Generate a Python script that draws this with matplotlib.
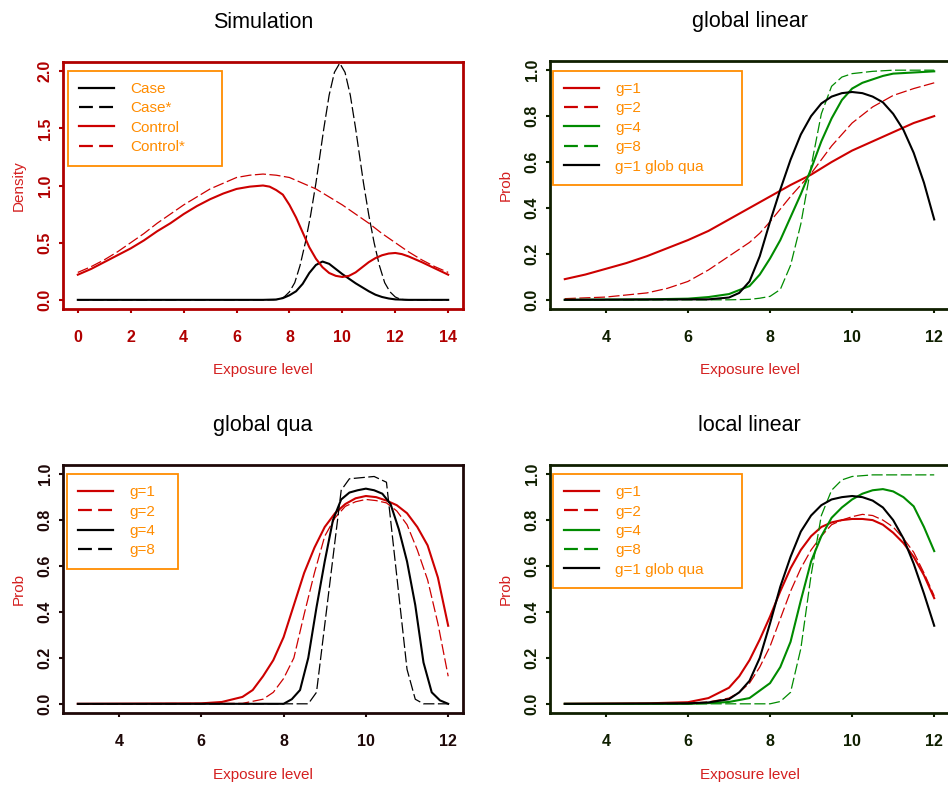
import matplotlib
matplotlib.use("Agg")
import matplotlib.pyplot as plt
from matplotlib.lines import Line2D
from matplotlib.ticker import FormatStrFormatter

plt.rcParams['font.family'] = ['Liberation Sans', 'DejaVu Sans']
plt.rcParams['lines.scale_dashes'] = False

RED = '#CD0000'
GREEN = '#008B00'
BLACK = '#000000'
ORANGE = '#FF8C00'
LABEL_RED = '#D42020'

# ---- Simulation (density curves) ----
control_x = [0, 0.5, 1, 1.5, 2, 2.5, 3, 3.5, 4, 4.5, 5, 5.5, 6, 6.5, 7, 7.25, 7.5, 7.75,
             8, 8.25, 8.5, 8.75, 9, 9.25, 9.5, 9.75, 10, 10.25, 10.5, 10.75, 11, 11.25,
             11.5, 11.75, 12, 12.25, 12.5, 13, 13.5, 14]
control_y = [0.22, 0.27, 0.33, 0.39, 0.45, 0.52, 0.60, 0.67, 0.75, 0.82, 0.88, 0.93, 0.97,
             0.99, 1.00, 0.99, 0.96, 0.92, 0.83, 0.72, 0.59, 0.46, 0.36, 0.285, 0.235, 0.21,
             0.20, 0.21, 0.24, 0.285, 0.33, 0.365, 0.39, 0.405, 0.41, 0.40, 0.38, 0.33,
             0.275, 0.22]
control_star_x = [0, 0.5, 1, 1.5, 2, 2.5, 3, 3.5, 4, 4.5, 5, 5.5, 6, 6.5, 7, 7.5, 8, 8.5,
                  9, 9.5, 10, 10.5, 11, 11.5, 12, 12.5, 13, 13.5, 14]
control_star_y = [0.24, 0.29, 0.35, 0.42, 0.50, 0.58, 0.67, 0.75, 0.83, 0.90, 0.97, 1.02,
                  1.07, 1.09, 1.10, 1.09, 1.07, 1.02, 0.97, 0.90, 0.83, 0.75, 0.67, 0.58,
                  0.50, 0.42, 0.35, 0.29, 0.24]
case_x = [0, 7, 7.5, 7.75, 8, 8.25, 8.5, 8.75, 9, 9.25, 9.5, 9.75, 10, 10.25, 10.5, 10.75,
          11, 11.25, 11.5, 11.75, 12, 12.5, 14]
case_y = [0, 0, 0.003, 0.015, 0.04, 0.075, 0.14, 0.235, 0.305, 0.335, 0.315, 0.27, 0.225,
          0.185, 0.145, 0.11, 0.075, 0.045, 0.025, 0.012, 0.004, 0, 0]
case_star_x = [0, 7.4, 7.6, 7.8, 8.0, 8.2, 8.4, 8.6, 8.8, 9.0, 9.1, 9.3, 9.5, 9.7, 9.9,
               10.1, 10.3, 10.5, 10.7, 10.8, 11.0, 11.2, 11.4, 11.6, 11.8, 12.0, 12.2,
               12.4, 14]
case_star_y = [0, 0, 0.005, 0.025, 0.07, 0.15, 0.30, 0.50, 0.74, 1.02, 1.18, 1.50, 1.79,
               1.99, 2.07, 1.99, 1.79, 1.50, 1.18, 1.02, 0.74, 0.50, 0.30, 0.15, 0.07,
               0.025, 0.005, 0, 0]

# ---- global linear ----
gl_g1_x = [3, 3.5, 4, 4.5, 5, 5.5, 6, 6.5, 7, 7.5, 8, 8.5, 9, 9.5, 10, 10.5, 11, 11.5, 12]
gl_g1_y = [0.09, 0.11, 0.135, 0.16, 0.19, 0.225, 0.26, 0.30, 0.35, 0.40, 0.45, 0.50, 0.545,
           0.60, 0.65, 0.69, 0.73, 0.77, 0.80]
gl_g2_x = [3, 4, 5, 5.5, 6, 6.5, 7, 7.5, 7.75, 8, 8.5, 9, 9.5, 10, 10.5, 11, 11.5, 12]
gl_g2_y = [0.005, 0.012, 0.03, 0.05, 0.08, 0.13, 0.19, 0.25, 0.29, 0.34, 0.45, 0.55, 0.67,
           0.77, 0.84, 0.89, 0.92, 0.945]
gl_g4_x = [3, 5, 6, 6.5, 7, 7.5, 7.75, 8, 8.25, 8.5, 8.75, 9, 9.25, 9.5, 9.75, 10, 10.25,
           10.5, 10.75, 11, 11.5, 12]
gl_g4_y = [0, 0.002, 0.005, 0.012, 0.025, 0.06, 0.11, 0.18, 0.26, 0.36, 0.46, 0.57, 0.69,
           0.79, 0.87, 0.92, 0.945, 0.96, 0.975, 0.985, 0.99, 0.995]
gl_g8_x = [3, 7, 7.5, 7.75, 8, 8.25, 8.5, 8.75, 9, 9.25, 9.5, 9.75, 10, 10.5, 11, 12]
gl_g8_y = [0, 0, 0.002, 0.007, 0.015, 0.045, 0.15, 0.33, 0.58, 0.81, 0.93, 0.97, 0.985,
           0.995, 1.0, 1.0]
gl_qua_x = [3, 6.5, 7, 7.25, 7.5, 7.75, 8, 8.25, 8.5, 8.75, 9, 9.25, 9.5, 9.75, 10, 10.25,
            10.5, 10.75, 11, 11.25, 11.5, 11.75, 12]
gl_qua_y = [0, 0.002, 0.01, 0.03, 0.08, 0.19, 0.34, 0.48, 0.61, 0.72, 0.80, 0.855, 0.885,
            0.90, 0.905, 0.90, 0.885, 0.86, 0.81, 0.74, 0.64, 0.51, 0.35]

# ---- global qua ----
gq_g1_x = [3, 6, 6.5, 7, 7.25, 7.5, 7.75, 8, 8.25, 8.5, 8.75, 9, 9.25, 9.5, 9.75, 10,
           10.25, 10.5, 10.75, 11, 11.25, 11.5, 11.75, 12]
gq_g1_y = [0, 0.002, 0.008, 0.03, 0.06, 0.12, 0.19, 0.29, 0.43, 0.57, 0.68, 0.77, 0.83,
           0.87, 0.895, 0.905, 0.90, 0.885, 0.865, 0.83, 0.77, 0.69, 0.55, 0.34]
gq_g2_x = [3, 7, 7.5, 7.75, 8, 8.25, 8.5, 8.75, 9, 9.25, 9.5, 9.75, 10, 10.25, 10.5, 10.75,
           11, 11.25, 11.5, 11.75, 12]
gq_g2_y = [0, 0.002, 0.02, 0.05, 0.11, 0.20, 0.39, 0.57, 0.73, 0.81, 0.86, 0.88, 0.89,
           0.885, 0.875, 0.84, 0.78, 0.67, 0.54, 0.35, 0.12]
gq_g4_x = [3, 8.0, 8.2, 8.4, 8.6, 8.8, 9.0, 9.2, 9.4, 9.6, 9.8, 10.0, 10.2, 10.4, 10.6,
           10.8, 11.0, 11.2, 11.4, 11.6, 11.8, 12]
gq_g4_y = [0, 0, 0.02, 0.06, 0.20, 0.42, 0.62, 0.80, 0.89, 0.92, 0.93, 0.937, 0.93, 0.915,
           0.87, 0.76, 0.62, 0.43, 0.18, 0.05, 0.015, 0]
gq_g8_x = [3, 8.6, 8.8, 9.4, 9.6, 10.2, 10.5, 11.0, 11.2, 11.4, 12]
gq_g8_y = [0, 0, 0.05, 0.93, 0.98, 0.99, 0.965, 0.15, 0.02, 0, 0]

# ---- local linear ----
ll_g1_x = [3, 5, 6, 6.5, 7, 7.25, 7.5, 7.75, 8, 8.25, 8.5, 8.75, 9, 9.25, 9.5, 9.75, 10,
           10.25, 10.5, 10.75, 11, 11.25, 11.5, 11.75, 12]
ll_g1_y = [0, 0.002, 0.007, 0.025, 0.07, 0.12, 0.19, 0.28, 0.38, 0.49, 0.59, 0.67, 0.73,
           0.77, 0.79, 0.80, 0.805, 0.805, 0.80, 0.78, 0.745, 0.70, 0.64, 0.56, 0.46]
ll_g2_x = [3, 6, 6.5, 7, 7.25, 7.5, 7.75, 8, 8.25, 8.5, 8.75, 9, 9.25, 9.5, 9.75, 10,
           10.25, 10.5, 10.75, 11, 11.25, 11.5, 11.75, 12]
ll_g2_y = [0, 0.002, 0.008, 0.025, 0.05, 0.09, 0.16, 0.25, 0.37, 0.49, 0.59, 0.67, 0.73,
           0.78, 0.80, 0.815, 0.825, 0.82, 0.80, 0.77, 0.72, 0.66, 0.57, 0.47]
ll_g4_x = [3, 6, 6.5, 7, 7.5, 8, 8.25, 8.5, 8.75, 9, 9.25, 9.5, 9.75, 10, 10.25, 10.5,
           10.75, 11, 11.25, 11.5, 11.75, 12]
ll_g4_y = [0, 0, 0.003, 0.008, 0.025, 0.09, 0.16, 0.27, 0.45, 0.62, 0.73, 0.81, 0.855,
           0.89, 0.915, 0.93, 0.935, 0.925, 0.90, 0.86, 0.77, 0.665]
ll_g8_x = [3, 8, 8.25, 8.5, 8.75, 9, 9.25, 9.5, 9.75, 10, 10.5, 12]
ll_g8_y = [0, 0, 0.01, 0.05, 0.24, 0.56, 0.82, 0.93, 0.975, 0.99, 0.997, 0.997]
ll_qua_x = [3, 6, 6.5, 7, 7.25, 7.5, 7.75, 8, 8.25, 8.5, 8.75, 9, 9.25, 9.5, 9.75, 10,
            10.25, 10.5, 10.75, 11, 11.25, 11.5, 11.75, 12]
ll_qua_y = [0, 0.002, 0.006, 0.02, 0.05, 0.10, 0.20, 0.35, 0.51, 0.64, 0.75, 0.82, 0.865,
            0.89, 0.90, 0.905, 0.90, 0.885, 0.855, 0.80, 0.72, 0.61, 0.48, 0.34]

SOLID = dict(lw=1.5, ls='-')
DASHED = dict(lw=0.9, ls=(0, (8, 2.5)))
FS = 11


def legend_handles(styles):
    hs = []
    for color, dashed in styles:
        if dashed:
            hs.append(Line2D([], [], color=color, lw=1.6, ls=(0, (10, 4.5))))
        else:
            hs.append(Line2D([], [], color=color, lw=1.6, ls='-'))
    return hs


def style_axes(ax, frame_color, title, ylabel, xticks, yticks, xlim, ylim, yfmt,
               ylab_x, xlab_y):
    ax.set_xlim(*xlim)
    ax.set_ylim(*ylim)
    ax.set_xticks(xticks)
    ax.set_yticks(yticks)
    ax.yaxis.set_major_formatter(FormatStrFormatter(yfmt))
    for sp in ax.spines.values():
        sp.set_color(frame_color)
        sp.set_linewidth(2.0)
    ax.tick_params(direction='out', length=3, width=1.5, color=frame_color,
                   labelcolor=frame_color, labelsize=11.5)
    ax.tick_params(axis='x', pad=12)
    ax.tick_params(axis='y', pad=4.5, labelrotation=90)
    for lab in ax.get_xticklabels() + ax.get_yticklabels():
        lab.set_fontweight('bold')
    for lab in ax.get_yticklabels():
        lab.set_va('center')
    ax.set_title(title, fontsize=15.5, pad=24.5, color='black')
    ax.set_xlabel('Exposure level', fontsize=FS, color=LABEL_RED)
    ax.set_ylabel(ylabel, fontsize=FS, color=LABEL_RED)
    ax.xaxis.set_label_coords(0.5, xlab_y)
    ax.yaxis.set_label_coords(ylab_x, 0.5)


def add_legend(ax, styles, labels, x0, ytop, width):
    leg = ax.legend(legend_handles(styles), labels, loc='upper left',
                    bbox_to_anchor=(x0, 0, width, ytop), mode='expand',
                    borderaxespad=0, fontsize=FS, labelcolor=ORANGE,
                    fancybox=False, framealpha=1, edgecolor=ORANGE,
                    handlelength=2.23, handletextpad=1.1, borderpad=0.75,
                    labelspacing=0.35)
    leg.get_frame().set_linewidth(1.3)


fig = plt.figure(figsize=(9.48, 7.88), dpi=100)
W, H = 948.0, 788.0
ax1 = fig.add_axes([63 / W, 1 - 309 / H, 400 / W, 247 / H])
ax2 = fig.add_axes([550 / W, 1 - 309 / H, 399 / W, 248 / H])
ax3 = fig.add_axes([63 / W, 1 - 713 / H, 400 / W, 248 / H])
ax4 = fig.add_axes([550 / W, 1 - 713 / H, 399 / W, 248 / H])

# Simulation
ax1.plot(case_x, case_y, color=BLACK, **SOLID)
ax1.plot(case_star_x, case_star_y, color=BLACK, **DASHED)
ax1.plot(control_x, control_y, color=RED, **SOLID)
ax1.plot(control_star_x, control_star_y, color=RED, **DASHED)
style_axes(ax1, '#B00000', 'Simulation', 'Density', range(0, 15, 2),
           [0, 0.5, 1.0, 1.5, 2.0], (-0.56, 14.56), (-0.08, 2.08), '%.1f', -0.0925, -0.218)
add_legend(ax1, [(BLACK, False), (BLACK, True), (RED, False), (RED, True)],
           ['Case', 'Case*', 'Control', 'Control*'], 0.0125, 0.965, 0.385)

# global linear
ax2.plot(gl_g1_x, gl_g1_y, color=RED, **SOLID)
ax2.plot(gl_g2_x, gl_g2_y, color=RED, **DASHED)
ax2.plot(gl_g4_x, gl_g4_y, color=GREEN, **SOLID)
ax2.plot(gl_g8_x, gl_g8_y, color=GREEN, **DASHED)
ax2.plot(gl_qua_x, gl_qua_y, color=BLACK, **SOLID)

# global qua
ax3.plot(gq_g1_x, gq_g1_y, color=RED, **SOLID)
ax3.plot(gq_g2_x, gq_g2_y, color=RED, **DASHED)
ax3.plot(gq_g4_x, gq_g4_y, color=BLACK, **SOLID)
ax3.plot(gq_g8_x, gq_g8_y, color=BLACK, **DASHED)

# local linear
ax4.plot(ll_g1_x, ll_g1_y, color=RED, **SOLID)
ax4.plot(ll_g2_x, ll_g2_y, color=RED, **DASHED)
ax4.plot(ll_g4_x, ll_g4_y, color=GREEN, **SOLID)
ax4.plot(ll_g8_x, ll_g8_y, color=GREEN, **DASHED)
ax4.plot(ll_qua_x, ll_qua_y, color=BLACK, **SOLID)

prob_ticks = [0, 0.2, 0.4, 0.6, 0.8, 1.0]
style_axes(ax2, '#0F1F00', 'global linear', 'Prob', [4, 6, 8, 10, 12], prob_ticks,
           (2.64, 12.36), (-0.04, 1.04), '%.1f', -0.093, -0.218)
style_axes(ax3, '#1E0808', 'global qua', 'Prob', [4, 6, 8, 10, 12], prob_ticks,
           (2.64, 12.36), (-0.04, 1.04), '%.1f', -0.0925, -0.22)
style_axes(ax4, '#0F1F00', 'local linear', 'Prob', [4, 6, 8, 10, 12], prob_ticks,
           (2.64, 12.36), (-0.04, 1.04), '%.1f', -0.093, -0.22)

glin_styles = [(RED, False), (RED, True), (GREEN, False), (GREEN, True), (BLACK, False)]
glin_labels = ['g=1', 'g=2', 'g=4', 'g=8', 'g=1 glob qua']
add_legend(ax2, glin_styles, glin_labels, 0.0075, 0.961, 0.474)
add_legend(ax3, [(RED, False), (RED, True), (BLACK, False), (BLACK, True)],
           ['g=1', 'g=2', 'g=4', 'g=8'], 0.01, 0.964, 0.278)
add_legend(ax4, glin_styles, glin_labels, 0.0075, 0.964, 0.474)

fig.savefig('out.png', dpi=100)
